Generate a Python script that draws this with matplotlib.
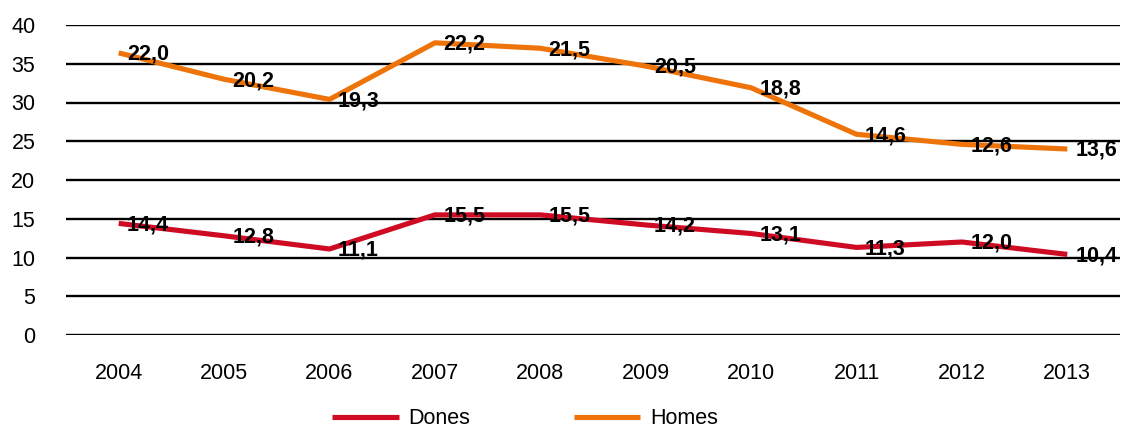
import matplotlib
matplotlib.use("Agg")
import matplotlib.pyplot as plt
import numpy as np

years = ["2004", "2005", "2006", "2007", "2008", "2009", "2010", "2011", "2012", "2013"]
dones = [14.4, 12.8, 11.1, 15.5, 15.5, 14.2, 13.1, 11.3, 12.0, 10.4]
homes = [22.0, 20.2, 19.3, 22.2, 21.5, 20.5, 18.8, 14.6, 12.6, 13.6]
yticks = [0, 5, 10, 15, 20, 25, 30, 35, 40]

plt.rcParams['font.family'] = ['Liberation Sans', 'DejaVu Sans']

fig = plt.figure(figsize=(11.29, 4.29), dpi=100)
ax = fig.add_axes([66/1129, 1-335/429, (1120-66)/1129, (335-25)/429])

x = np.arange(len(years))
d = np.array(dones)
h = d + np.array(homes)  # stacked line

red = "#CF0A23"
orange = "#EE7309"

for yv in yticks:
    ax.axhline(yv, color="black", lw=1.7, zorder=1)

ax.plot(x, d, color=red, lw=3.7, zorder=3, label="Dones", solid_capstyle="butt")
ax.plot(x, h, color=orange, lw=3.7, zorder=3, label="Homes", solid_capstyle="butt")

for xi, yv, lab in zip(x, d, dones):
    ax.annotate(f"{lab:.1f}".replace(".", ","), (xi, yv), xytext=(6, -1),
                textcoords="offset points", ha="left", va="center",
                fontsize=15.5, fontweight="bold", zorder=4)
for xi, yv, lab in zip(x, h, homes):
    ax.annotate(f"{lab:.1f}".replace(".", ","), (xi, yv), xytext=(6, -1),
                textcoords="offset points", ha="left", va="center",
                fontsize=15.5, fontweight="bold", zorder=4)

ax.set_xlim(-0.5, len(years) - 0.5)
ax.set_ylim(0, 40)
ax.set_yticks(yticks)
ax.set_xticks(x)
ax.set_xticklabels(years)
ax.tick_params(axis="both", length=0, labelsize=15.5)
ax.tick_params(axis="x", pad=20)
ax.tick_params(axis="y", pad=22)
for s in ax.spines.values():
    s.set_visible(False)

leg = fig.legend(loc="center", bbox_to_anchor=(0.465, 0.024), ncol=2,
                 frameon=False, fontsize=15.5, handlelength=3.1, columnspacing=4.8,
                 handletextpad=0.45, borderpad=0)
for l in leg.get_lines():
    l.set_linewidth(3.7)

fig.savefig("out.png", dpi=100)
